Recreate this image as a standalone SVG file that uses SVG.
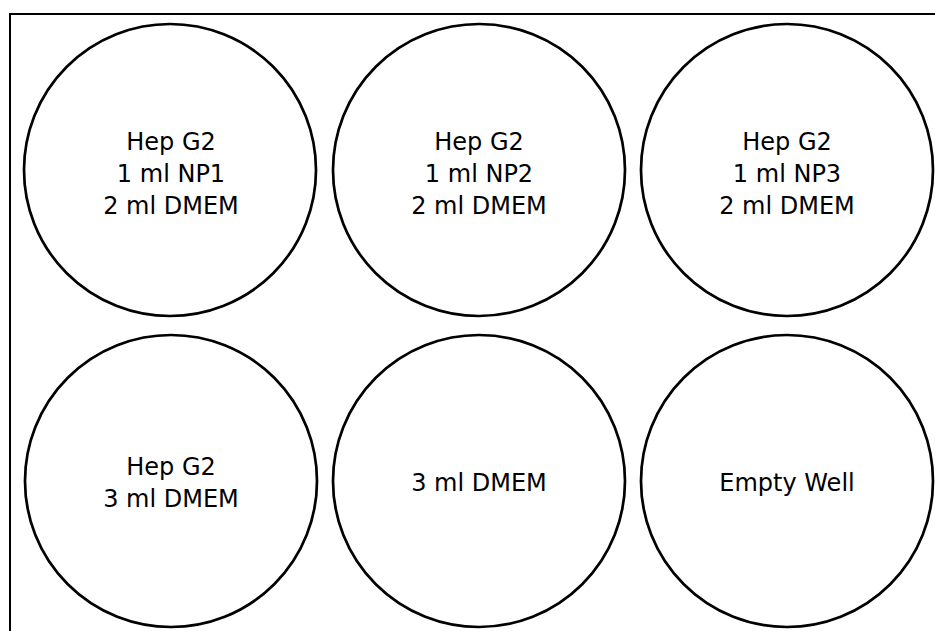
<svg xmlns="http://www.w3.org/2000/svg" width="935" height="631" viewBox="0 0 935 631">
<style>
.well{fill:none;stroke:#000;stroke-width:2.7}
.plate{fill:#fff;stroke:#000;stroke-width:2}
text{font-family:"DejaVu Sans",sans-serif;font-size:24px;fill:#000;text-anchor:middle}
</style>
<rect class="plate" x="10" y="14" width="940" height="640"/>
<g id="well1"><circle class="well" cx="170" cy="170" r="146"/><text x="171" y="150">Hep G2</text><text x="171" y="182">1 ml NP1</text><text x="171" y="214">2 ml DMEM</text></g>
<g id="well2"><circle class="well" cx="479" cy="170" r="146"/><text x="479" y="150">Hep G2</text><text x="479" y="182">1 ml NP2</text><text x="479" y="214">2 ml DMEM</text></g>
<g id="well3"><circle class="well" cx="787" cy="170" r="146"/><text x="787" y="150">Hep G2</text><text x="787" y="182">1 ml NP3</text><text x="787" y="214">2 ml DMEM</text></g>
<g id="well4"><circle class="well" cx="171" cy="481" r="146"/><text x="171" y="475">Hep G2</text><text x="171" y="507">3 ml DMEM</text></g>
<g id="well5"><circle class="well" cx="479" cy="481" r="146"/><text x="479" y="491">3 ml DMEM</text></g>
<g id="well6"><circle class="well" cx="787" cy="481" r="146"/><text x="787" y="491">Empty Well</text></g>
<g id="connectors"/>
</svg>
